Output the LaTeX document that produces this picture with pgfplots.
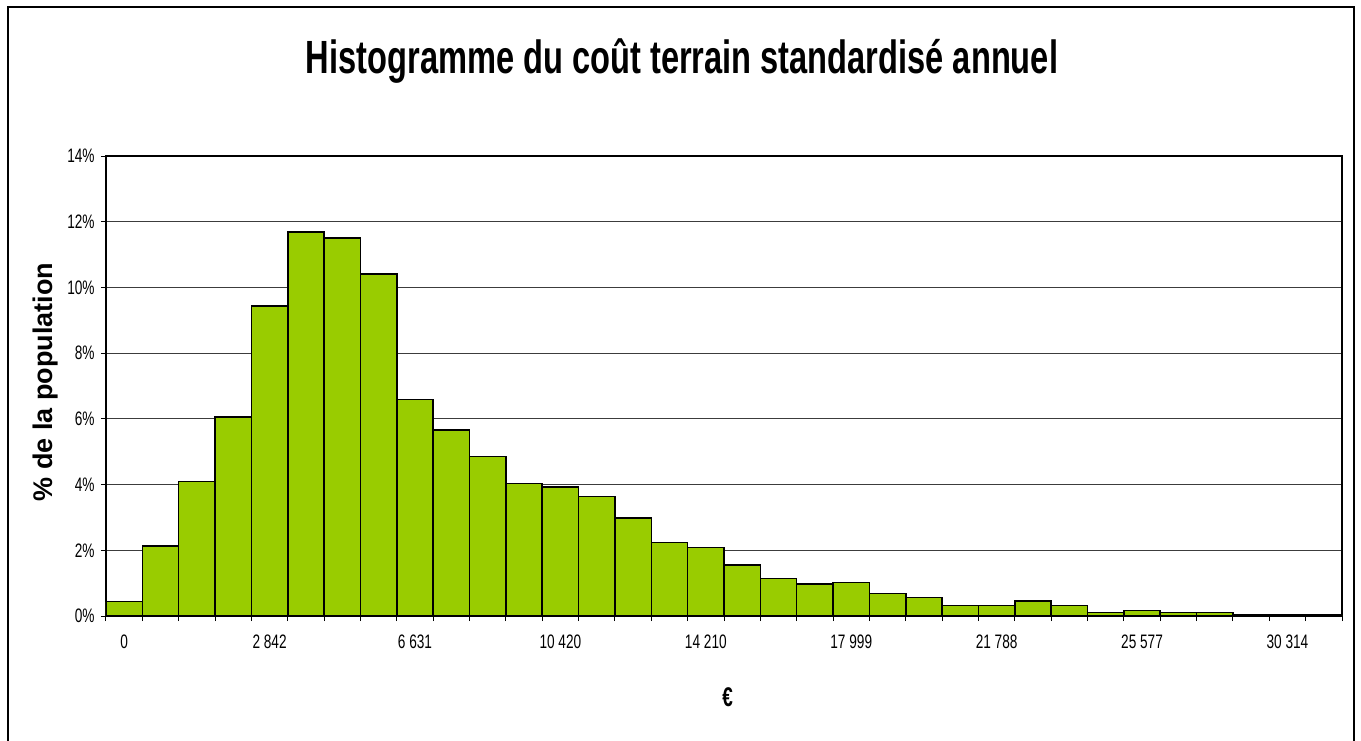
\documentclass[border=0pt]{standalone}
\usepackage{fontspec}
\setmainfont{Liberation Sans}[FakeStretch=0.7]
\newfontfamily\widefont{Liberation Sans}
\usepackage{pgfplots}
\pgfplotsset{compat=1.18}
\definecolor{barGreen}{RGB}{153,204,0}
\definecolor{gridGray}{RGB}{60,60,60}

\begin{document}
\begin{tikzpicture}
% page = 1361 x 740 px, 1 px = 0.5pt
\useasboundingbox (0,0) rectangle (680.5pt,-370pt);
\draw[line width=0.6pt] (4pt,-371pt) -- (4pt,-3.5pt) -- (677pt,-3.5pt) -- (677pt,-371pt);

\begin{axis}[
    at={(53pt,-308pt)}, anchor=south west,
    width=618pt, height=230pt, scale only axis,
    ybar, bar width=1, bar shift=0pt,
    xmin=-0.5, xmax=33.5,
    ymin=0, ymax=14,
    axis line style={line width=0.6pt},
    tick align=outside,
    xtick pos=bottom, ytick pos=left,
    major tick length=2.5pt,
    tick style={black, line width=0.5pt},
    xtick={-0.5,0.5,...,33.5},
    xticklabels={},
    extra x ticks={0,4,...,32},
    extra x tick labels={0,2 842,6 631,10 420,14 210,17 999,21 788,25 577,30 314},
    extra x tick style={major tick length=0pt, tick style={draw=none}},
    ytick={0,2,...,14},
    yticklabels={0\%,2\%,4\%,6\%,8\%,10\%,12\%,14\%},
    ymajorgrids, grid style={gridGray, line width=0.5pt},
    tick label style={font=\fontsize{9.75pt}{11pt}\selectfont},
    xticklabel style={anchor=base, yshift=-16pt},
    yticklabel style={inner sep=0pt, xshift=-3pt},
    title={\fontsize{23.3pt}{26pt}\selectfont\bfseries Histogramme du coût terrain standardisé annuel},
    title style={at={(0.466,1.153)}, anchor=base, inner sep=0pt},
    xlabel={\fontsize{13.5pt}{15pt}\selectfont\bfseries €},
    xlabel style={at={(0.503,-0.1957)}, anchor=base, inner sep=0pt},
    ylabel={\widefont\fontsize{13.5pt}{15pt}\selectfont\bfseries \% de la population},
    ylabel style={at={(-0.0429,0.5087)}, anchor=base, rotate=0, inner sep=0pt},
]
\addplot[fill=barGreen, draw=black, line width=0.75pt] coordinates {
(0,0.44) (1,2.13) (2,4.10) (3,6.06) (4,9.43) (5,11.68) (6,11.51) (7,10.41)
(8,6.59) (9,5.66) (10,4.86) (11,4.04) (12,3.93) (13,3.63) (14,2.99) (15,2.24)
(16,2.08) (17,1.55) (18,1.14) (19,0.97) (20,1.02) (21,0.69) (22,0.56) (23,0.32)
(24,0.32) (25,0.46) (26,0.32) (27,0.10) (28,0.17) (29,0.11) (30,0.11) (31,0.04)
(32,0.04) (33,0.03)
};
\end{axis}
\end{tikzpicture}
\end{document}
